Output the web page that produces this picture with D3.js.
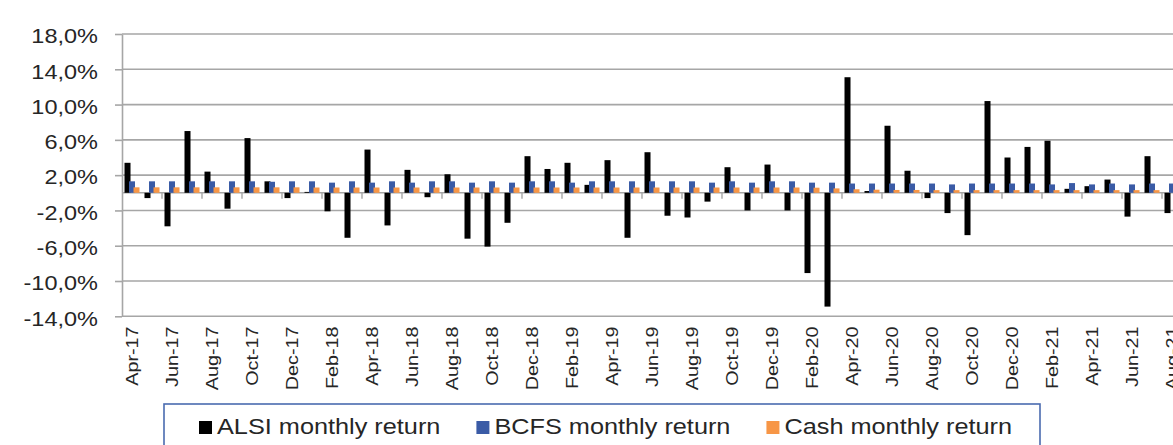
<!DOCTYPE html>
<html>
<head>
<meta charset="utf-8">
<script src="https://cdn.jsdelivr.net/npm/d3@7"></script>
<style>
    body { margin: 0; background: #fff; overflow: hidden; }
    text { font-family: "Liberation Sans", Arial, sans-serif; fill: #262626; }
</style>
</head>
<body>
<svg id="main_svg" width="1173" height="445"></svg>
<script>
const months = ["Apr-17","May-17","Jun-17","Jul-17","Aug-17","Sep-17","Oct-17","Nov-17","Dec-17",
    "Jan-18","Feb-18","Mar-18","Apr-18","May-18","Jun-18","Jul-18","Aug-18","Sep-18","Oct-18","Nov-18","Dec-18",
    "Jan-19","Feb-19","Mar-19","Apr-19","May-19","Jun-19","Jul-19","Aug-19","Sep-19","Oct-19","Nov-19","Dec-19",
    "Jan-20","Feb-20","Mar-20","Apr-20","May-20","Jun-20","Jul-20","Aug-20","Sep-20","Oct-20","Nov-20","Dec-20",
    "Jan-21","Feb-21","Mar-21","Apr-21","May-21","Jun-21","Jul-21","Aug-21"];

// monthly returns in %
const alsi = [3.4, -0.6, -3.8, 7.0, 2.4, -1.8, 6.2, 1.3, -0.6,
    0.1, -2.1, -5.1, 4.9, -3.7, 2.6, -0.5, 2.1, -5.2, -6.1, -3.4, 4.15,
    2.7, 3.4, 0.9, 3.7, -5.1, 4.6, -2.6, -2.8, -1.0, 2.9, -2.0, 3.2,
    -2.0, -9.1, -12.9, 13.1, 0.2, 7.6, 2.5, -0.6, -2.3, -4.8, 10.4, 4.0,
    5.2, 5.9, 0.45, 0.75, 1.5, -2.7, 4.15, -2.3];
const bcfs = [1.3, 1.3, 1.3, 1.3, 1.3, 1.3, 1.3, 1.25, 1.3,
    1.3, 1.15, 1.3, 1.15, 1.3, 1.15, 1.3, 1.3, 1.15, 1.3, 1.15, 1.3,
    1.3, 1.15, 1.3, 1.3, 1.3, 1.3, 1.3, 1.3, 1.15, 1.3, 1.15, 1.3,
    1.3, 1.15, 1.15, 1.05, 1.05, 1.05, 1.05, 1.05, 0.95, 1.05, 1.05, 1.05,
    1.05, 0.95, 1.1, 0.95, 1.05, 0.95, 1.05, 1.05];
const cash = [0.62, 0.62, 0.62, 0.62, 0.62, 0.62, 0.62, 0.62, 0.62,
    0.6, 0.6, 0.6, 0.6, 0.6, 0.6, 0.6, 0.6, 0.6, 0.6, 0.6, 0.6,
    0.6, 0.6, 0.6, 0.6, 0.6, 0.6, 0.6, 0.6, 0.6, 0.6, 0.6, 0.6,
    0.6, 0.58, 0.5, 0.4, 0.35, 0.32, 0.32, 0.3, 0.3, 0.3, 0.3, 0.3,
    0.3, 0.3, 0.3, 0.3, 0.3, 0.3, 0.3, 0.3];

const seriesNames = ["ALSI monthly return", "BCFS monthly return", "Cash monthly return"];
const seriesColors = ["#000000", "#3a5ba6", "#f79646"];
const yTicks = [-14, -10, -6, -2, 2, 6, 10, 14, 18];

let svg = d3.select("#main_svg");
let series = [alsi, bcfs, cash];

let x = d3.scaleBand().domain(months).range([122, 1182]);
let y = d3.scaleLinear().domain([-14, 18]).range([316.3, 34]);
let sub = d3.scaleBand().domain([0, 1, 2]).range([-7.5, 6]); // overlapping bars
let barW = 6;

// gridlines
svg.append("g").selectAll("line").data(yTicks).join("line")
    .attr("x1", 122).attr("x2", 1182)
    .attr("y1", d => y(d)).attr("y2", d => y(d))
    .attr("stroke", "#a6a6a6").attr("stroke-width", 1.6);

// y axis
let yAxis = svg.append("g").attr("transform", "translate(122,0)")
    .call(d3.axisLeft(y).tickValues(yTicks).tickSize(7).tickSizeOuter(0)
        .tickFormat(d => d.toFixed(1).replace(".", ",") + "%"));
yAxis.select(".domain").attr("stroke", "#a6a6a6").attr("stroke-width", 1.6);
yAxis.selectAll(".tick line").attr("stroke", "#a6a6a6").attr("stroke-width", 1.6);
yAxis.selectAll(".tick text")
    .attr("x", -24 / 1.12).attr("dy", "0.42em")
    .attr("transform", "scale(1.12,1)")
    .style("font-size", "21px").style("fill", "#262626");

// category axis along zero
svg.append("line")
    .attr("x1", 122).attr("x2", 1182).attr("y1", y(0)).attr("y2", y(0))
    .attr("stroke", "#a6a6a6").attr("stroke-width", 1.6);
svg.append("g").selectAll("line").data(months.filter((d, i) => i % 2 == 0 && i > 0)).join("line")
    .attr("x1", d => x(d)).attr("x2", d => x(d))
    .attr("y1", y(0)).attr("y2", y(0) + 6)
    .attr("stroke", "#a6a6a6").attr("stroke-width", 1.4);

// bars
for (let s = 0; s < series.length; s++) {
    svg.append("g").selectAll("rect").data(series[s]).join("rect")
        .attr("x", (d, i) => x(months[i]) + x.bandwidth() / 2 + sub(s))
        .attr("width", barW)
        .attr("y", d => y(Math.max(0, d)))
        .attr("height", d => Math.abs(y(d) - y(0)))
        .attr("fill", seriesColors[s]);
}

// month labels
let xAxis = svg.append("g").attr("transform", "translate(0,322)")
    .call(d3.axisBottom(x).tickValues(months.filter((d, i) => i % 2 == 0)).tickSize(0));
xAxis.select(".domain").remove();
xAxis.selectAll(".tick text")
    .attr("transform", "rotate(-90) scale(1.1,0.92)")
    .attr("x", -4).attr("y", 0).attr("dy", "0.36em")
    .style("text-anchor", "end").style("font-size", "18px").style("fill", "#262626");

// legend
let legend = svg.append("g");
legend.append("rect")
    .attr("x", 164).attr("y", 404).attr("width", 876).attr("height", 70)
    .attr("fill", "#fff").attr("stroke", "#4a6bb0").attr("stroke-width", 1.6);
let lx = 199;
seriesNames.forEach((name, i) => {
    legend.append("rect").attr("x", lx).attr("y", 421).attr("width", 13).attr("height", 13)
        .attr("fill", seriesColors[i]);
    let t = legend.append("text")
        .attr("transform", "translate(" + (lx + 18) + ",434) scale(1.15,1)")
        .style("font-size", "22px")
        .text(name);
    lx += 18 + t.node().getComputedTextLength() * 1.15 + 36;
});
</script>
</body>
</html>
